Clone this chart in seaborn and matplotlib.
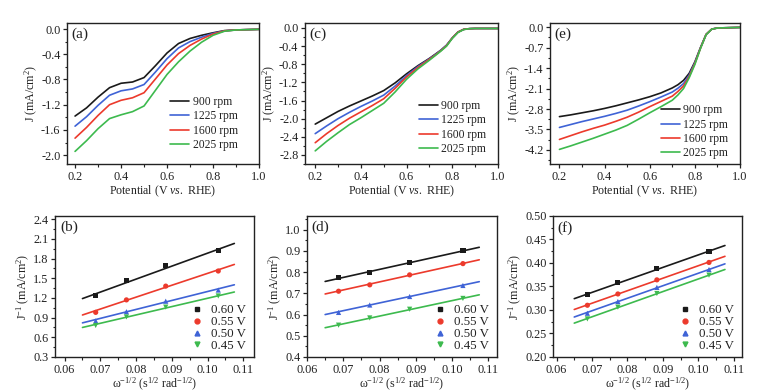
import numpy as np
import pandas as pd
import matplotlib
matplotlib.use("Agg")
import matplotlib.pyplot as plt
import seaborn as sns
from matplotlib.ticker import MultipleLocator, AutoMinorLocator, FormatStrFormatter
from matplotlib.lines import Line2D

# ---------------- data ----------------
rpm_labels = ["900 rpm", "1225 rpm", "1600 rpm", "2025 rpm"]
volt_labels = ["0.60 V", "0.55 V", "0.50 V", "0.45 V"]

# panel (a)
pot_a = [0.20, 0.25, 0.30, 0.35, 0.40, 0.45, 0.50, 0.55, 0.60, 0.65, 0.70, 0.75, 0.80, 0.85, 0.90, 0.95, 1.00]
a_900 = [-1.38, -1.25, -1.08, -0.93, -0.86, -0.84, -0.77, -0.58, -0.38, -0.23, -0.15, -0.10, -0.06, -0.025, -0.015, -0.01, -0.005]
a_1225 = [-1.54, -1.39, -1.21, -1.05, -0.98, -0.95, -0.88, -0.68, -0.47, -0.30, -0.20, -0.13, -0.07, -0.03, -0.015, -0.01, -0.005]
a_1600 = [-1.73, -1.56, -1.37, -1.20, -1.13, -1.09, -1.01, -0.79, -0.57, -0.39, -0.26, -0.16, -0.08, -0.03, -0.015, -0.01, -0.005]
a_2025 = [-1.94, -1.77, -1.58, -1.42, -1.36, -1.31, -1.22, -0.97, -0.72, -0.52, -0.35, -0.21, -0.10, -0.035, -0.015, -0.01, -0.005]

# panel (c)
pot_c = [0.20, 0.25, 0.30, 0.35, 0.40, 0.45, 0.50, 0.55, 0.60, 0.65, 0.70, 0.725, 0.75, 0.775, 0.80, 0.825, 0.85, 0.875, 0.90, 0.95, 1.00]
c_900 = [-2.12, -1.98, -1.84, -1.72, -1.61, -1.50, -1.38, -1.21, -1.01, -0.83, -0.67, -0.58, -0.49, -0.38, -0.22, -0.09, -0.03, -0.015, -0.01, -0.01, -0.01]
c_1225 = [-2.33, -2.16, -2.00, -1.86, -1.73, -1.61, -1.48, -1.28, -1.05, -0.85, -0.68, -0.59, -0.49, -0.38, -0.22, -0.09, -0.03, -0.015, -0.01, -0.01, -0.01]
c_1600 = [-2.53, -2.33, -2.15, -1.99, -1.85, -1.71, -1.56, -1.33, -1.08, -0.87, -0.69, -0.60, -0.50, -0.39, -0.22, -0.09, -0.03, -0.015, -0.01, -0.01, -0.01]
c_2025 = [-2.71, -2.50, -2.31, -2.13, -1.98, -1.82, -1.66, -1.41, -1.13, -0.90, -0.71, -0.61, -0.51, -0.40, -0.23, -0.10, -0.035, -0.015, -0.01, -0.01, -0.01]

# panel (e)
pot_e = [0.20, 0.25, 0.30, 0.35, 0.40, 0.45, 0.50, 0.55, 0.60, 0.65, 0.70, 0.725, 0.75, 0.775, 0.80, 0.825, 0.85, 0.875, 0.90, 0.95, 1.00]
e_900 = [-3.06, -3.00, -2.93, -2.86, -2.78, -2.69, -2.59, -2.49, -2.38, -2.25, -2.08, -1.97, -1.82, -1.58, -1.19, -0.70, -0.25, -0.07, -0.03, -0.02, -0.01]
e_1225 = [-3.43, -3.33, -3.23, -3.14, -3.05, -2.95, -2.84, -2.70, -2.55, -2.39, -2.22, -2.09, -1.93, -1.64, -1.22, -0.71, -0.25, -0.07, -0.03, -0.02, -0.01]
e_1600 = [-3.84, -3.71, -3.58, -3.46, -3.35, -3.22, -3.08, -2.91, -2.72, -2.54, -2.36, -2.20, -2.01, -1.69, -1.25, -0.72, -0.25, -0.07, -0.03, -0.02, -0.01]
e_2025 = [-4.18, -4.06, -3.93, -3.80, -3.66, -3.52, -3.36, -3.15, -2.93, -2.72, -2.50, -2.32, -2.10, -1.73, -1.28, -0.73, -0.26, -0.07, -0.03, -0.02, -0.01]

# K-L plots: omega^-1/2 of the measured points and the fit-line ends
omega = [0.0687, 0.0773, 0.0883, 0.1030]
fit_x = [0.065, 0.1075]

b_060 = [1.24, 1.47, 1.69, 1.92]
b_055 = [0.98, 1.17, 1.38, 1.61]
b_050 = [0.85, 0.99, 1.15, 1.32]
b_045 = [0.78, 0.91, 1.06, 1.23]
b_fit_060 = [1.19, 2.03]
b_fit_055 = [0.94, 1.71]
b_fit_050 = [0.82, 1.40]
b_fit_045 = [0.75, 1.29]

d_060 = [0.775, 0.800, 0.845, 0.900]
d_055 = [0.710, 0.740, 0.787, 0.840]
d_050 = [0.610, 0.645, 0.685, 0.737]
d_045 = [0.550, 0.584, 0.625, 0.676]
d_fit_060 = [0.756, 0.917]
d_fit_055 = [0.697, 0.858]
d_fit_050 = [0.600, 0.755]
d_fit_045 = [0.538, 0.693]

f_060 = [0.333, 0.358, 0.388, 0.425]
f_055 = [0.310, 0.334, 0.364, 0.401]
f_050 = [0.293, 0.318, 0.348, 0.386]
f_045 = [0.281, 0.306, 0.335, 0.374]
f_fit_060 = [0.324, 0.437]
f_fit_055 = [0.301, 0.414]
f_fit_050 = [0.285, 0.398]
f_fit_045 = [0.272, 0.386]

colors = ["#1a1a1a", "#3f63d6", "#ec3a2c", "#3dba4e"]
colors_kl = ["#1a1a1a", "#ec3a2c", "#3f63d6", "#3dba4e"]
markers = ["s", "o", "^", "v"]

# ---------------- style ----------------
sns.set_style("ticks")
plt.rcParams["font.family"] = ["Liberation Serif", "DejaVu Serif"]
plt.rcParams["mathtext.fontset"] = "custom"
plt.rcParams["mathtext.rm"] = "Liberation Serif"
plt.rcParams["mathtext.it"] = "Liberation Serif:italic"
plt.rcParams["axes.linewidth"] = 1.0
plt.rcParams["axes.edgecolor"] = "#222222"
plt.rcParams["text.color"] = "#222222"
plt.rcParams["axes.labelcolor"] = "#222222"
plt.rcParams["xtick.color"] = "#222222"
plt.rcParams["ytick.color"] = "#222222"

TICK_FS = 8.8
LAB_FS = 8.6

fig = plt.figure(figsize=(7.72, 3.92), dpi=100)

top_pos = [
    [0.0868, 0.5816, 0.2487, 0.3597],
    [0.3950, 0.5816, 0.2500, 0.3597],
    [0.7124, 0.5816, 0.2461, 0.3597],
]
bot_pos = [
    [0.0712, 0.0893, 0.2578, 0.3600],
    [0.3977, 0.0893, 0.2461, 0.3600],
    [0.7163, 0.0893, 0.2448, 0.3600],
]


def style_axis(ax):
    for s in ax.spines.values():
        s.set_visible(True)
        s.set_linewidth(1.0)
    ax.tick_params(axis="both", which="major", direction="out", length=3.2, width=0.9,
                   labelsize=TICK_FS, pad=1.5, top=False, right=False)
    ax.tick_params(axis="both", which="minor", direction="out", length=1.8, width=0.8,
                   top=False, right=False)
    ax.xaxis.set_minor_locator(AutoMinorLocator(2))
    ax.yaxis.set_minor_locator(AutoMinorLocator(2))


# ---------------- top row: LSV curves ----------------
top_sets = [
    ("(a)", pot_a, [a_900, a_1225, a_1600, a_2025], (0.165, 1.0), (-2.14, 0.095), 0.4, (0.95, 0.01)),
    ("(c)", pot_c, [c_900, c_1225, c_1600, c_2025], (0.155, 1.0), (-3.0, 0.11), 0.4, (1.0, -0.02)),
    ("(e)", pot_e, [e_900, e_1225, e_1600, e_2025], (0.158, 1.0), (-4.68, 0.14), 0.7, (1.0, -0.05)),
]

for pos, (tag, pot, series, xl, yl, ystep, anchor) in zip(top_pos, top_sets):
    ax = fig.add_axes(pos)
    frames = []
    for lab, vals in zip(rpm_labels, series):
        frames.append(pd.DataFrame({"E": pot, "J": vals, "rpm": lab}))
    df = pd.concat(frames, ignore_index=True)
    sns.lineplot(data=df, x="E", y="J", hue="rpm", hue_order=rpm_labels,
                 palette=colors, linewidth=1.2, ax=ax, legend=False, sort=False)
    ax.set_xlim(*xl)
    ax.set_ylim(*yl)
    ax.xaxis.set_major_locator(MultipleLocator(0.2))
    ax.yaxis.set_major_locator(MultipleLocator(ystep))
    ax.yaxis.set_major_formatter(FormatStrFormatter("%.1f"))
    ax.xaxis.set_major_formatter(FormatStrFormatter("%.1f"))
    style_axis(ax)
    ax.set_xlabel(r"Potential (V $\mathit{vs.}$ RHE)", fontsize=LAB_FS, labelpad=0.5)
    ax.set_ylabel(r"J (mA/cm$^{2}$)", fontsize=LAB_FS, labelpad=1)
    ax.text(0.025, 0.965, tag, transform=ax.transAxes, fontsize=11, va="top", ha="left")
    handles = [Line2D([0], [0], color=c, lw=1.2) for c in colors]
    ax.legend(handles, rpm_labels, loc="lower right", frameon=False, fontsize=8.4,
              handlelength=1.6, handletextpad=0.3, labelspacing=0.2,
              borderaxespad=0.6, bbox_to_anchor=anchor)

# ---------------- bottom row: K-L plots ----------------
bot_sets = [
    ("(b)", [b_060, b_055, b_050, b_045], [b_fit_060, b_fit_055, b_fit_050, b_fit_045],
     (0.0573, 0.113), (0.3, 2.45), 0.3, "%.1f"),
    ("(d)", [d_060, d_055, d_050, d_045], [d_fit_060, d_fit_055, d_fit_050, d_fit_045],
     (0.0600, 0.1124), (0.4, 1.065), 0.1, "%.1f"),
    ("(f)", [f_060, f_055, f_050, f_045], [f_fit_060, f_fit_055, f_fit_050, f_fit_045],
     (0.0590, 0.1123), (0.2, 0.5), 0.05, "%.2f"),
]

for pos, (tag, pts, fits, xl, yl, ystep, fmt) in zip(bot_pos, bot_sets):
    ax = fig.add_axes(pos)
    pframes, lframes = [], []
    for lab, p, fl in zip(volt_labels, pts, fits):
        pframes.append(pd.DataFrame({"w": omega, "Jinv": p, "V": lab}))
        lframes.append(pd.DataFrame({"w": fit_x, "Jinv": fl, "V": lab}))
    dfp = pd.concat(pframes, ignore_index=True)
    dfl = pd.concat(lframes, ignore_index=True)
    sns.lineplot(data=dfl, x="w", y="Jinv", hue="V", hue_order=volt_labels,
                 palette=colors_kl, linewidth=1.2, ax=ax, legend=False)
    sns.scatterplot(data=dfp, x="w", y="Jinv", hue="V", style="V",
                    hue_order=volt_labels, style_order=volt_labels,
                    palette=colors_kl, markers=markers, s=14, linewidth=0,
                    ax=ax, legend=False, zorder=3)
    ax.set_xlim(*xl)
    ax.set_ylim(*yl)
    ax.xaxis.set_major_locator(MultipleLocator(0.01))
    ax.xaxis.set_major_formatter(FormatStrFormatter("%.2f"))
    ax.yaxis.set_major_locator(MultipleLocator(ystep))
    ax.yaxis.set_major_formatter(FormatStrFormatter(fmt))
    style_axis(ax)
    ax.set_xlabel("ω$^{-1/2}$ (s$^{1/2}$ rad$^{-1/2}$)", fontsize=LAB_FS, labelpad=0.5)
    ax.set_ylabel(r"J$^{-1}$ (mA/cm$^{2}$)", fontsize=LAB_FS, labelpad=1)
    ax.text(0.025, 0.965, tag, transform=ax.transAxes, fontsize=11, va="top", ha="left")
    handles = [Line2D([0], [0], color=c, marker=m, linestyle="none", markersize=3.5)
               for c, m in zip(colors_kl, markers)]
    ax.legend(handles, volt_labels, loc="lower right", frameon=False, fontsize=9.3,
              handlelength=1.0, handletextpad=0.6, labelspacing=-0.02,
              borderaxespad=0.0, bbox_to_anchor=(0.985, 0.0))

fig.savefig("out.png", dpi=100)
